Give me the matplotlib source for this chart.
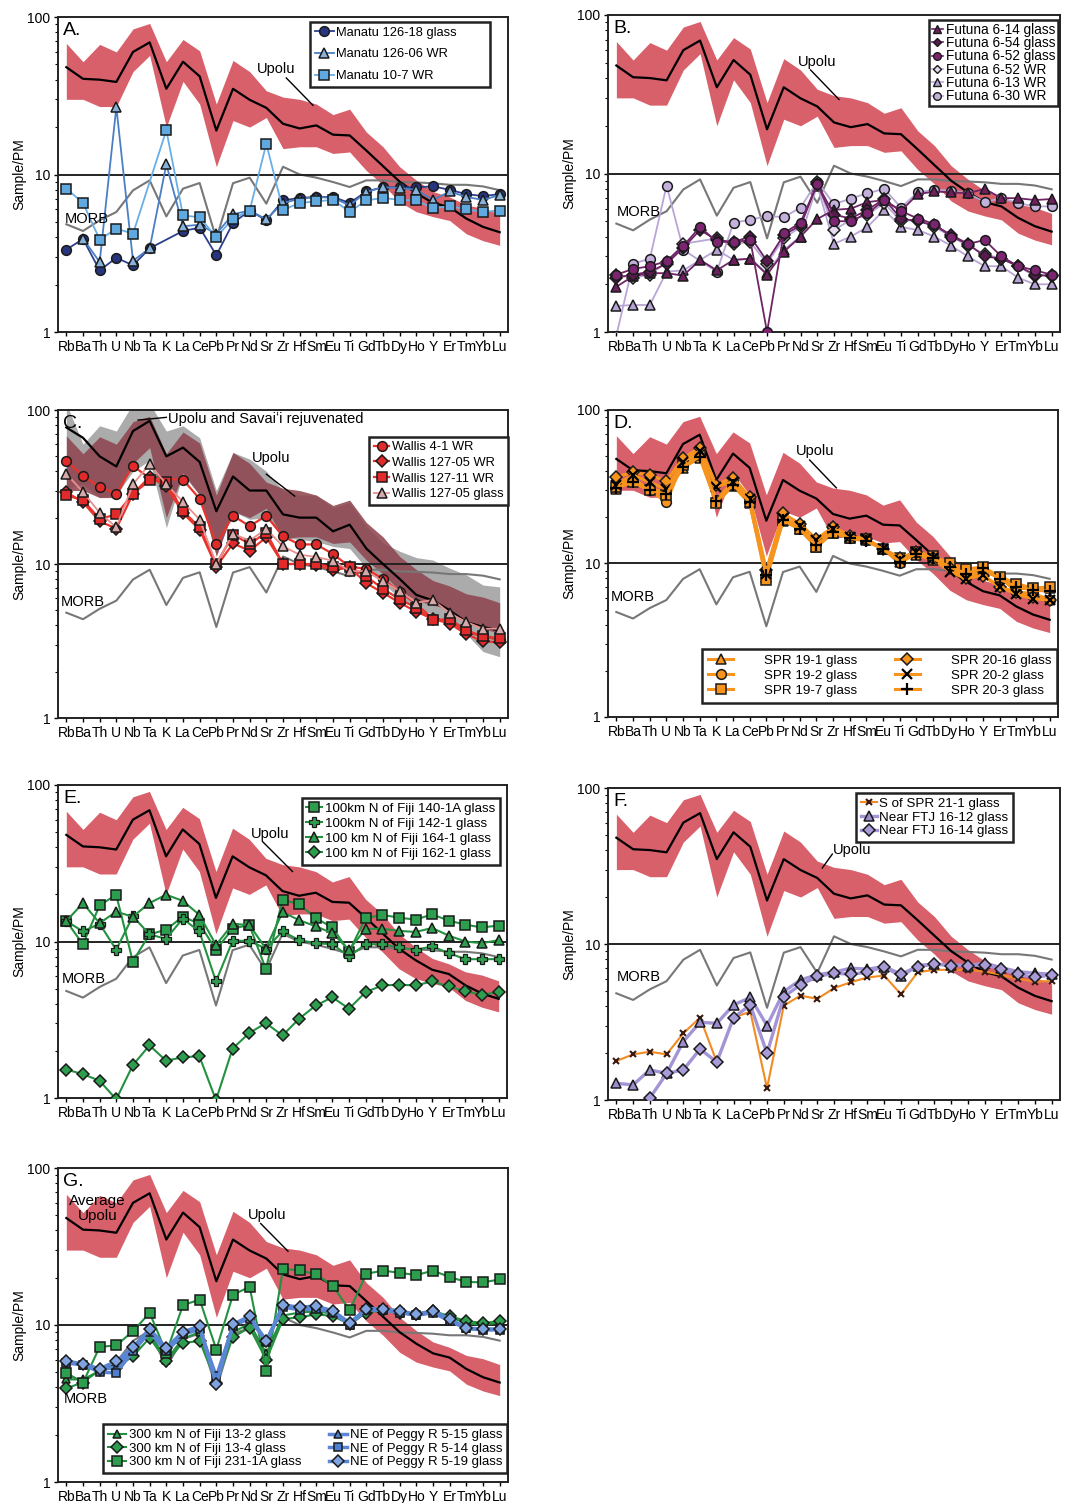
import numpy as np
import matplotlib.pyplot as plt
from matplotlib.ticker import LogLocator, NullFormatter

plt.rcParams['font.family'] = ['Liberation Sans', 'DejaVu Sans']

nan = np.nan

elements = ['Rb', 'Ba', 'Th', 'U', 'Nb', 'Ta', 'K', 'La', 'Ce', 'Pb', 'Pr', 'Nd', 'Sr',
            'Zr', 'Hf', 'Sm', 'Eu', 'Ti', 'Gd', 'Tb', 'Dy', 'Ho', 'Y', 'Er', 'Tm', 'Yb', 'Lu']

# reference fields, sample / primitive mantle
upolu_avg = [48, 40.5, 40, 38.7, 60, 69, 35, 52, 42, 19, 35, 29.8, 26.5, 21, 19.6, 20.5,
             17.9, 17.7, 14.2, 11.3, 9.0, 7.6, 6.6, 6.2, 5.25, 4.65, 4.3]
upolu_high = [68, 52, 67, 60, 84, 91, 52, 72, 61, 28, 53, 45, 34, 31, 30, 28, 24, 26,
              18.6, 15, 11.2, 9.2, 7.8, 7.2, 6.4, 6.1, 5.6]
upolu_low = [30, 30, 27, 27, 45, 57, 20, 39, 28, 11.2, 22, 20, 23, 14.6, 15, 15, 13.6,
             13.9, 10.6, 8.6, 6.7, 5.8, 5.4, 5.1, 4.2, 3.8, 3.55]
morb = [4.83, 4.38, 5.12, 5.78, 7.93, 9.18, 5.42, 8.13, 8.83, 3.9, 8.8, 9.55, 6.53, 11.2,
        10.0, 9.55, 8.96, 8.33, 9.18, 9.18, 8.96, 8.9, 8.8, 8.6, 8.6, 8.4, 7.95]
rejuv_avg = [77, 66, 50, 43, 73, 85, 50, 57, 46, 22, 37, 30, 30, 21, 20, 20, 16.3, 18,
             12.6, 10, 8.0, 6.3, 5.8, 5.0, 4.2, 3.9, 3.7]
rejuv_high = [110, 60, 79, 73, 110, 110, 73, 79, 66, 30, 53, 48, 40, 30, 28, 28, 23.2, 25,
              17.6, 13.7, 12.1, 11, 10.6, 9.4, 8.5, 7.3, 7.1]
rejuv_low = [31, 33, 27, 28, 40, 47, 17.2, 38, 28, 11.5, 22, 19.5, 20, 14.8, 14.4, 14, 13,
             12.6, 9.4, 7.5, 6.0, 5.2, 4.7, 4.2, 3.5, 2.7, 2.5]

# A. Manatu
manatu_126_18g = [3.33, 3.9, 2.46, 2.96, 2.65, 3.4, nan, 4.38, 4.6, 3.07, 4.92, 5.9, 5.12,
                  6.85, 7.1, 7.2, 7.2, 6.6, 7.8, 8.3, 8.3, 8.3, 8.4, 8.0, 7.5, 7.3, 7.5]
manatu_126_06wr = [nan, 3.92, 2.78, 26.8, 2.83, 3.4, 11.6, 4.69, 4.8, 4.2, 5.6, 5.9, 5.2,
                   6.6, 7.0, 7.2, 7.1, 6.37, 7.75, 8.3, 8.2, 8.0, 6.9, 7.8, 7.2, 6.9, 7.4]
manatu_10_7wr = [8.13, 6.6, 3.86, 4.53, 4.21, nan, 19.1, 5.5, 5.35, 4.0, 5.25, 5.9, 15.7,
                 5.95, 6.6, 6.75, 6.9, 5.8, 6.85, 7.1, 6.9, 6.85, 6.1, 6.3, 6.0, 5.8, 5.9]

# B. Futuna
futuna_6_14g = [1.93, 2.25, 2.35, 2.35, 2.27, 2.85, 2.45, 2.85, 2.9, 2.3, 3.2, 4.0, 5.16,
                5.9, 6.0, 6.6, 6.8, 5.8, 7.4, 7.7, 7.6, 7.5, 8.0, 7.0, 6.98, 6.8, 6.9]
futuna_6_54g = [2.2, 2.3, 2.4, 2.7, 3.4, 4.4, 3.8, 3.7, 4.0, 2.8, 4.1, 4.7, 8.6, 5.5, 5.2,
                5.9, 6.9, 5.2, 5.0, 4.7, 4.1, 3.6, 3.0, 2.9, 2.6, 2.3, 2.25]
futuna_6_52g = [2.3, 2.5, 2.6, 2.8, 3.5, 4.6, 3.7, 3.7, 3.8, 1.0, 4.2, 4.9, 8.6, 5.0, 5.0,
                5.6, 6.8, 5.8, 5.2, 4.8, 4.0, 3.6, 3.8, 3.0, 2.6, 2.45, 2.3]
futuna_6_52wr = [2.3, 2.2, 2.3, 2.75, 3.6, nan, 3.9, 3.6, 3.7, 2.7, 3.9, 4.6, 8.8, 4.4, 5.1,
                 5.5, 6.5, 5.0, 5.1, 4.6, 4.0, 3.5, 3.1, 2.9, 2.6, 2.25, 2.3]
futuna_6_13wr = [1.46, 1.48, 1.48, 2.4, 2.45, nan, 3.3, 2.85, 2.9, 2.35, 3.3, 4.0, 8.4, 3.6,
                 4.0, 4.6, 5.9, 4.6, 4.4, 4.0, 3.5, 3.0, 2.6, 2.6, 2.2, 2.0, 2.0]
futuna_6_30wr = [0.95, 2.7, 2.9, 8.4, 3.3, nan, 2.4, 4.9, 5.1, 5.4, 5.3, 6.1, 8.9, 6.4, 6.95,
                 7.5, 8.0, 6.1, 7.6, 7.9, 7.8, 7.5, 6.6, 7.0, 6.5, 6.2, 6.2]

# C. Wallis
wallis_4_1wr = [46.8, 37.3, 31.6, 28.6, 43.4, 36, nan, 35.3, 26.5, 13.4, 20.6, 17.6, 20.6,
                15.1, 13.4, 13.4, 11.6, 9.6, 9.3, 8.0, 6.6, 5.5, 4.4, 4.3, 3.6, 3.4, 3.2]
wallis_127_05wr = [29.3, 25.2, 18.9, 17.0, 28.6, 36.7, 32, 21.4, 16.7, 9.6, 13.6, 12.2, 14.9,
                   10, 10, 9.8, 9.1, 9.5, 7.5, 6.5, 5.6, 4.9, 4.4, 4.1, 3.5, 3.15, 3.1]
wallis_127_11wr = [27.9, 26, 19.6, 21, 28.6, 34.9, 34.2, 22, 17.3, 10, 15.5, 13.5, 16, 10,
                   10, 10, 9.5, 9.6, 8.3, 6.9, 5.9, 5.2, 4.3, 4.4, 3.7, 3.4, 3.3]
wallis_127_05g = [38.6, 29.3, 21.5, 17.3, 33, 44.5, 33, 25.3, 19.4, 10, 15.7, 14.2, 16.9,
                  13, 11.5, 11.1, 10.5, 9.0, 9.0, 7.7, 6.7, 5.6, 5.85, 4.8, 4.2, 3.8, 3.8]

# D. SPR
spr_19_1g = [30.8, 34.4, 30.8, 29.0, 42.0, 48.9, 25.0, 32.1, 24.6, 8.2, 18.9, 16.9, 12.8,
             15.9, 14.6, 14.2, 12.4, 10.3, 11.4, 10.5, 9.75, 8.6, 9.3, 8.0, 6.9, 6.9, 6.9]
spr_19_2g = [32.4, 35.8, 30.1, 25.0, 46.0, 53.0, 25.9, 34.1, 26.5, 8.8, 19.9, 17.3, 13.5,
             16.5, 14.7, 14.2, 12.5, 10.0, 11.8, 10.8, 9.65, 8.2, 8.8, 8.2, 6.5, 6.4, 5.8]
spr_19_7g = [31.6, 33.8, 30.1, 27.9, 43.8, 50.9, 24.6, 32.4, 25.2, 7.8, 19.2, 16.7, 12.8,
             15.9, 14.7, 14.4, 12.5, 10.8, 11.9, 11.2, 10.0, 9.2, 9.5, 8.2, 7.4, 6.9, 7.05]
spr_20_16g = [36.7, 39.2, 37.7, 34.4, 48.4, 56.8, 32.7, 36.2, 27.2, 9.05, 21.2, 18.2, 14.4,
              17.3, 15.2, 14.4, 12.5, 10.9, 11.9, 10.8, 9.3, 8.07, 8.3, 7.05, 6.5, 6.07, 5.77]
spr_20_2g = [32.7, 37.7, 33.8, 30.5, 46.0, 54.0, 31.6, 34.1, 26.3, 8.6, 19.7, 17.6, 14.2,
             16.9, 14.9, 14.4, 12.4, 10.5, 11.8, 10.8, 8.8, 7.98, 8.4, 7.05, 6.3, 5.9, 5.77]
spr_20_3g = [31.2, 33.8, 30.1, 28.2, 42.7, 49.6, 25.5, 32.7, 25.2, 8.4, 19.2, 16.7, 13.2,
             16.1, 14.6, 14.0, 12.4, 10.3, 11.6, 10.8, 9.5, 8.6, 9.3, 7.9, 7.05, 6.7, 6.6]

# E. 100 km N of Fiji
fiji_140_1a = [13.5, 9.6, 17.0, 19.9, 7.45, 11.1, 11.9, 14.4, 13.0, 8.85, 12.05, 12.8, 6.66,
               18.5, 17.3, 14.1, 12.3, 8.6, 14.1, 14.8, 14.2, 13.8, 14.9, 13.6, 12.8, 12.3, 12.65]
fiji_142_1 = [13.5, 11.6, 13.0, 8.85, 14.5, 11.1, 10.4, 14.0, 11.6, 5.56, 10.1, 10.1, 9.0,
              11.6, 10.2, 9.76, 9.6, 8.02, 9.6, 9.6, 9.16, 8.85, 9.3, 8.43, 7.71, 7.71, 7.71]
fiji_164_1 = [13.5, 17.6, 13.1, 15.5, 14.4, 17.6, 19.9, 18.2, 14.8, 9.5, 12.9, 12.8, 9.0,
              15.4, 13.7, 12.5, 11.3, 8.85, 12.05, 12.05, 11.7, 11.5, 12.2, 10.9, 10.0, 9.76, 10.2]
fiji_162_1 = [1.52, 1.42, 1.29, 0.98, 1.62, 2.17, 1.73, 1.82, 1.85, 0.97, 2.07, 2.6, 3.01,
              2.51, 3.21, 3.9, 4.4, 3.72, 4.75, 5.24, 5.29, 5.24, 5.56, 5.16, 4.8, 4.57, 4.75]

# F. S of SPR and near FTJ
sspr_21_1 = [1.78, 1.96, 2.04, 1.96, 2.68, 3.37, 1.75, 3.37, 3.69, 1.19, 4.03, 4.67, 4.45,
             5.21, 5.69, 6.1, 6.28, 4.76, 6.59, 6.83, 6.83, 6.83, 6.66, 6.34, 5.98, 5.74, 5.79]
ftj_16_12 = [1.28, 1.25, 1.56, 1.48, 2.37, 3.15, 3.1, 4.07, 4.54, 3.0, 4.95, 5.89, 6.34, 6.6,
             7.0, 6.9, 7.17, 6.19, 7.28, 7.43, 7.35, 7.28, 7.53, 7.04, 6.66, 6.5, 6.4]
ftj_16_14 = [nan, nan, 1.03, 1.48, 1.56, 2.12, 1.75, 3.37, 4.07, 1.99, 4.6, 5.47, 6.19, 6.5,
             6.4, 6.6, 7.17, 6.4, 7.17, 7.43, 7.28, 7.28, 7.35, 6.9, 6.4, 6.1, 6.34]

# G. 300 km N of Fiji and NE of Peggy Ridge
fiji300_13_2 = [4.5, 4.5, 5.1, 5.8, 7.0, 8.9, 6.0, 8.2, 9.0, 4.6, 9.0, 10.2, 6.6, 11.5, 12.0,
                12.2, 11.8, 10.0, 12.2, 12.6, 12.0, 11.8, 12.4, 11.2, 10.3, 10.0, 10.4]
fiji300_13_4 = [3.96, 4.3, 5.2, 5.35, 6.33, 8.28, 5.89, 7.7, 7.9, 4.3, 8.4, 9.6, 6.0, 10.9,
                11.2, 11.7, 11.4, 10.1, 12.0, 12.4, 12.0, 11.7, 12.2, 11.4, 10.6, 10.3, 10.6]
fiji300_231_1a = [4.96, 4.29, 7.26, 7.41, 9.14, 11.95, 6.65, 13.4, 14.5, 6.98, 15.6, 17.5,
                  5.08, 22.8, 22.3, 21.0, 17.7, 12.4, 21.2, 22.2, 21.5, 20.8, 22.2, 20.2,
                  18.8, 18.7, 19.5]
peggy_5_15 = [5.8, 5.6, 5.2, 5.4, 7.0, 9.2, 7.0, 8.9, 9.6, 4.4, 10.0, 11.2, 7.9, 13.2, 12.8,
              13.0, 12.2, 10.2, 12.6, 12.5, 12.2, 11.6, 12.2, 10.8, 9.5, 9.4, 9.4]
peggy_5_14 = [5.7, 5.6, 5.0, 4.96, 6.8, 9.0, 6.8, 8.7, 9.4, 4.7, 9.9, 11.0, 7.8, 13.0, 12.5,
              12.7, 12.0, 10.0, 12.5, 12.4, 12.0, 11.5, 12.0, 10.6, 9.5, 9.3, 9.3]
peggy_5_19 = [5.89, 5.66, 5.26, 5.89, 7.22, 9.45, 7.14, 9.05, 9.83, 4.18, 10.1, 11.4, 7.89,
              13.4, 13.0, 13.2, 12.3, 10.3, 12.7, 12.7, 12.3, 11.7, 12.3, 10.9, 9.6, 9.4, 9.4]

x = np.arange(len(elements))
BAND = '#d8606b'
EDGE = '#1a1a1a'

fig = plt.figure(figsize=(10.68, 15.03), dpi=100)


def make_axes(left, top, right, bottom):
    W, H = 1068, 1503
    return fig.add_axes([left / W, 1 - bottom / H, (right - left) / W, (bottom - top) / H])


def style(ax):
    ax.set_yscale('log')
    ax.set_ylim(1, 100)
    ax.set_xlim(-0.5, 26.5)
    ax.set_xticks(x)
    ax.set_xticklabels(elements, fontsize=10)
    ax.set_yticks([1, 10, 100])
    ax.set_yticklabels(['1', '10', '100'], fontsize=10)
    ax.yaxis.set_minor_locator(LogLocator(subs=np.arange(2, 10)))
    ax.yaxis.set_minor_formatter(NullFormatter())
    ax.tick_params(which='major', length=3, width=1, pad=2.5)
    ax.tick_params(which='minor', length=2, width=0.8)
    ax.set_ylabel('Sample/PM', fontsize=10, labelpad=1)
    for s in ax.spines.values():
        s.set_linewidth(1.4)
        s.set_color('#222222')


def base(ax, letter, up_txt, leader, morb_txt, band=True, avg=True):
    if band:
        ax.fill_between(x, upolu_low, upolu_high, color=BAND, lw=0, zorder=1)
    ax.plot(x, morb, color='#777777', lw=1.5, zorder=2)
    ax.axhline(10, color='#222222', lw=1.4, zorder=2)
    if avg:
        ax.plot(x, upolu_avg, color='k', lw=1.6, zorder=3)
    ax.text(up_txt[0], up_txt[1], 'Upolu', fontsize=10.5, ha='center', va='center', zorder=6)
    ax.plot(leader[0], leader[1], color='k', lw=1.0, zorder=6)
    ax.text(morb_txt[0], morb_txt[1], 'MORB', fontsize=10.5, ha='left', va='center', zorder=6)
    ax.text(0.012, 0.985, letter, transform=ax.transAxes, fontsize=14, ha='left', va='top',
            zorder=7)
    style(ax)


def series(ax, vals, marker, fc, lc, label, lw=1.3, ms=7, mec=EDGE, mew=1.1, z=4):
    v = np.asarray(vals, float)
    ok = ~np.isnan(v)
    ax.plot(x[ok], v[ok], color=lc, lw=lw, marker=marker, ms=ms, mfc=fc, mec=mec, mew=mew,
            label=label, zorder=z)


def legend(ax, **kw):
    opts = dict(fontsize=9.3, handlelength=1.2, handletextpad=0.2, borderpad=0.35,
                fancybox=False, framealpha=1, edgecolor='#222222', borderaxespad=0)
    opts.update(kw)
    leg = ax.legend(**opts)
    leg.get_frame().set_linewidth(1.8)
    leg.set_zorder(8)
    return leg


# ---- A ----
ax = make_axes(58, 17, 508, 332)
base(ax, 'A.', (12.6, 47), ([13.2, 14.8], [41, 27.5]), (-0.1, 5.2))
series(ax, manatu_126_18g, 'o', '#27357e', '#2b3f8f', 'Manatu 126-18 glass')
series(ax, manatu_126_06wr, '^', '#86b2dc', '#4b7fc4', 'Manatu 126-06 WR')
series(ax, manatu_10_7wr, 's', '#5fa8e0', '#6aaee6', 'Manatu 10-7 WR')
legend(ax, loc='upper left', bbox_to_anchor=(0.56, 0.6, 0.40, 0.384), mode='expand',
       labelspacing=0.75, handlelength=1.5)

# ---- B ----
ax = make_axes(608, 15, 1060, 332)
base(ax, 'B.', (12.0, 50.6), ([11.6, 13.3], [45, 29.3]), (0.0, 5.7))
dark, light = '#6e2465', '#b9a5d6'
series(ax, futuna_6_13wr, '^', '#b6a3d3', light, None)
series(ax, futuna_6_30wr, 'o', '#c3b0db', light, None)
series(ax, futuna_6_52wr, 'D', '#e6dcef', light, None, ms=6)
series(ax, futuna_6_14g, '^', '#6e1f5e', dark, None)
series(ax, futuna_6_54g, 'D', '#5a1a50', dark, None, ms=6)
series(ax, futuna_6_52g, 'o', '#7b2470', dark, None)
hb = [
    plt.Line2D([], [], color=dark, marker='^', mfc='#6e1f5e', mec=EDGE, ms=5.5, lw=1.2),
    plt.Line2D([], [], color=dark, marker='D', mfc='#5a1a50', mec=EDGE, ms=4.5, lw=1.2),
    plt.Line2D([], [], color=dark, marker='o', mfc='#7b2470', mec=EDGE, ms=5.5, lw=1.2),
    plt.Line2D([], [], color=light, marker='D', mfc='#e6dcef', mec=EDGE, ms=4.5, lw=1.2),
    plt.Line2D([], [], color=light, marker='^', mfc='#b6a3d3', mec=EDGE, ms=5.5, lw=1.2),
    plt.Line2D([], [], color=light, marker='o', mfc='#c3b0db', mec=EDGE, ms=5.5, lw=1.2),
]
legend(ax, handles=hb, labels=['Futuna 6-14 glass', 'Futuna 6-54 glass', 'Futuna 6-52 glass',
                               'Futuna 6-52 WR', 'Futuna 6-13 WR', 'Futuna 6-30 WR'],
       loc='upper right', bbox_to_anchor=(0.995, 0.984), labelspacing=-0.05, fontsize=9.8,
       handlelength=0.8, borderpad=0.2)

# ---- C ----
ax = make_axes(58, 410, 508, 718)
ax.fill_between(x, rejuv_low, rejuv_high, color='#ababab', lw=0, zorder=1)
ax.fill_between(x, upolu_low, upolu_high, color='#8e4650', alpha=0.88, lw=0, zorder=1)
ax.plot(x, rejuv_avg, color='k', lw=1.6, zorder=3)
base(ax, 'C.', (12.3, 49), ([12.0, 13.7], [38.3, 27.6]), (-0.35, 5.65), band=False, avg=False)
ax.text(6.1, 87, 'Upolu and Savai\u02bbi rejuvenated', fontsize=10.5, ha='left', va='center')
ax.plot([4.3, 6.0], [86, 89.6], color='k', lw=1.0)
series(ax, wallis_4_1wr, 'o', '#e32a2a', '#e8342c', 'Wallis 4-1 WR', lw=1.6)
series(ax, wallis_127_05wr, 'D', '#e32a2a', '#e8342c', 'Wallis 127-05 WR', ms=6, lw=1.6)
series(ax, wallis_127_11wr, 's', '#e32a2a', '#e8342c', 'Wallis 127-11 WR', ms=6.5, lw=1.6)
series(ax, wallis_127_05g, '^', '#d6a9ab', '#ea8f8f', 'Wallis 127-05 glass', lw=1.3)
legend(ax, loc='upper right', bbox_to_anchor=(1.0, 0.913), labelspacing=0.28)

# ---- D ----
ax = make_axes(608, 410, 1058, 717)
base(ax, 'D.', (11.95, 54), ([11.6, 13.2], [47.2, 31.1]), (-0.36, 6.07))
OR = '#f7941d'
series(ax, spr_19_1g, '^', OR, OR, 'SPR 19-1 glass', lw=2.2)
series(ax, spr_19_2g, 'o', OR, OR, 'SPR 19-2 glass', lw=2.2)
series(ax, spr_19_7g, 's', OR, OR, 'SPR 19-7 glass', lw=2.2, ms=6.5)
series(ax, spr_20_16g, 'D', OR, OR, 'SPR 20-16 glass', lw=2.2, ms=6)
series(ax, spr_20_2g, 'x', 'k', OR, 'SPR 20-2 glass', lw=2.2, mec='k', mew=1.6, ms=7)
series(ax, spr_20_3g, '+', 'k', OR, 'SPR 20-3 glass', lw=2.2, mec='k', mew=1.6, ms=8)
legend(ax, loc='lower right', bbox_to_anchor=(0.998, 0.046), ncol=2, labelspacing=0.2,
       fontsize=9.6, handlelength=1.9, handletextpad=2.3, columnspacing=2.8, borderpad=0.45)

# ---- E ----
ax = make_axes(58, 785, 507, 1098)
base(ax, 'E.', (12.26, 48.4), ([11.8, 13.6], [43.5, 28.0]), (-0.25, 5.78))
GR, GL = '#2d9e4e', '#23913f'
series(ax, fiji_140_1a, 's', GR, GL, '100km N of Fiji 140-1A glass', ms=7.5, lw=1.5)
series(ax, fiji_142_1, 'P', GR, GL, '100km N of Fiji 142-1 glass', ms=7.5, lw=1.5, mew=0.9)
series(ax, fiji_164_1, '^', GR, GL, '100 km N of Fiji 164-1 glass', ms=7.5, lw=1.5)
series(ax, fiji_162_1, 'D', GR, GL, '100 km N of Fiji 162-1 glass', ms=6, lw=1.5)
legend(ax, loc='upper right', bbox_to_anchor=(0.984, 0.958), labelspacing=0.2, fontsize=9.6)

# ---- F ----
ax = make_axes(608, 788, 1060, 1100)
base(ax, 'F.', (14.1, 40.2), ([12.9, 12.3], [37.7, 30.7]), (0.0, 6.1))
series(ax, sspr_21_1, 'x', 'k', '#f28b22', 'S of SPR 21-1 glass', lw=1.5, mec='#3a1a10',
       mew=1.5, ms=5)
series(ax, ftj_16_12, '^', '#9d8dcc', '#a394d6', 'Near FTJ 16-12 glass', lw=2.4, ms=7.5)
series(ax, ftj_16_14, 'D', '#a99ad8', '#a394d6', 'Near FTJ 16-14 glass', lw=2.4, ms=6)
legend(ax, loc='upper right', bbox_to_anchor=(0.896, 0.984), labelspacing=0.1, fontsize=9.6)

# ---- G ----
ax = make_axes(58, 1168, 508, 1482)
base(ax, 'G.', (12.06, 50.5), ([11.66, 13.3], [44.3, 29.5]), (-0.15, 3.36))
ax.text(1.86, 55, 'Average\nUpolu', fontsize=11, ha='center', va='center', linespacing=1.05)
BL, BF = '#5b86d4', '#4e7fd0'
series(ax, fiji300_13_2, '^', GR, GL, '300 km N of Fiji 13-2 glass', lw=1.5, ms=6)
series(ax, fiji300_13_4, 'D', GR, GL, '300 km N of Fiji 13-4 glass', lw=1.5, ms=6)
series(ax, fiji300_231_1a, 's', GR, GL, '300 km N of Fiji 231-1A glass', lw=1.5, ms=6.5)
series(ax, peggy_5_15, '^', BF, BL, 'NE of Peggy R 5-15 glass', lw=2.5, ms=6)
series(ax, peggy_5_14, 's', BF, BL, 'NE of Peggy R 5-14 glass', lw=2.5, ms=6)
series(ax, peggy_5_19, 'D', '#7fa3e0', BL, 'NE of Peggy R 5-19 glass', lw=2.5, ms=6.5)
legend(ax, loc='lower left', bbox_to_anchor=(0.1, 0.029, 0.898, 0.18), mode='expand',
       ncol=2, labelspacing=0.1, fontsize=9.5, handlelength=1.4)

fig.savefig('out.png', dpi=100)
